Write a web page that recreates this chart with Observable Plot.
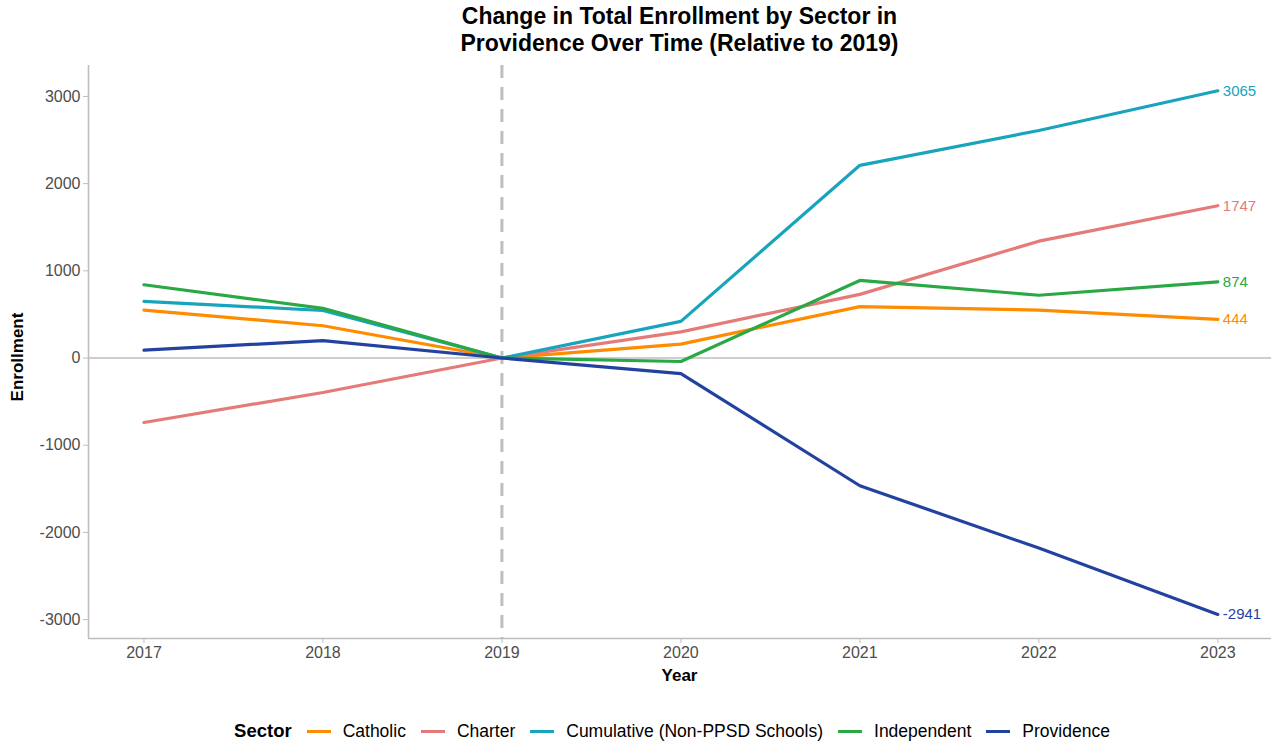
<!DOCTYPE html>
<html>
<head>
<meta charset="utf-8">
<script src="https://cdn.jsdelivr.net/npm/d3@7"></script>
<script src="https://cdn.jsdelivr.net/npm/@observablehq/plot@0.6"></script>
<style>
  html, body { margin:0; padding:0; background:#fff; }
  body { font-family: "Liberation Sans", Arial, sans-serif; }
  #wrap { position:relative; width:1271px; height:746px; overflow:hidden; }
  #chart { position:absolute; left:0; top:0; z-index:0; }
  #title { position:absolute; z-index:2; left:88px; width:1183px; top:3px; text-align:center; font-weight:bold; font-size:23px; line-height:27px; color:#000; }
  #xlab { position:absolute; z-index:2; left:88px; width:1183px; top:666px; text-align:center; font-weight:bold; font-size:17px; color:#000; }
  #ylab { position:absolute; z-index:2; left:18px; top:357px; transform:translate(-50%,-50%) rotate(-90deg); font-weight:bold; font-size:17px; color:#000; white-space:nowrap; }
  #legend { position:absolute; z-index:2; left:0; width:1271px; top:720px; display:flex; justify-content:center; align-items:center; font-size:17.5px; color:#000; padding-left:88px; box-sizing:border-box; }
  #legend .ttl { font-weight:bold; margin-right:15px; font-size:18.5px; }
  #legend .sw { display:inline-block; width:24px; height:3px; margin-right:12px; }
  #legend .it { display:flex; align-items:center; margin-right:15px; }
</style>
</head>
<body>
<div id="wrap">
  <div id="chart"></div>
  <div id="title">Change in Total Enrollment by Sector in<br>Providence Over Time (Relative to 2019)</div>
  <div id="xlab">Year</div>
  <div id="ylab">Enrollment</div>
  <div id="legend"></div>
</div>
<script>
const years = [2017, 2018, 2019, 2020, 2021, 2022, 2023];
const sectors = ["Catholic", "Charter", "Cumulative (Non-PPSD Schools)", "Independent", "Providence"];
const colors = ["#FF8C00", "#E57B78", "#18A4BD", "#2AA845", "#2342A0"];
const catholic    = [550, 370, 0, 160, 590, 550, 444];
const charter     = [-740, -395, 0, 300, 730, 1340, 1747];
const cumulative  = [650, 545, 0, 420, 2210, 2610, 3065];
const independent = [840, 570, 0, -40, 890, 720, 874];
const providence  = [90, 200, 0, -180, -1465, -2180, -2941];
const yTicks = [-3000, -2000, -1000, 0, 1000, 2000, 3000];

const series = [catholic, charter, cumulative, independent, providence];
const data = [];
sectors.forEach((s, i) => years.forEach((y, j) => data.push({sector: s, year: y, value: series[i][j]})));
const last = data.filter(d => d.year === years[years.length - 1]);

const xDom = [2016.69, 2023.3];
const yDom = [-3217, 3355];
const grey = "#bebebe";

const chart = Plot.plot({
  width: 1271, height: 700,
  marginTop: 65, marginBottom: 62, marginLeft: 88, marginRight: 0,
  style: {fontFamily: "'Liberation Sans', Arial, sans-serif", fontSize: "16px", color: "#4d4d4d", background: "white", overflow: "visible"},
  x: {domain: xDom, label: null},
  y: {domain: yDom, label: null},
  color: {domain: sectors, range: colors},
  marks: [
    Plot.ruleY([0], {stroke: grey, strokeWidth: 1.6}),
    Plot.ruleX([2019], {stroke: grey, strokeWidth: 3, strokeDasharray: "13,9"}),
    Plot.ruleX([xDom[0]], {stroke: grey, strokeWidth: 1.6}),
    Plot.ruleY([yDom[0]], {stroke: grey, strokeWidth: 1.6}),
    Plot.axisX({ticks: years, tickFormat: d => String(d), tickSize: 5, tickPadding: 3, stroke: grey, fill: "#4d4d4d", label: null, fontSize: 16}),
    Plot.axisY({ticks: yTicks, tickFormat: d => String(d), tickSize: 5, tickPadding: 3, stroke: grey, fill: "#4d4d4d", label: null, fontSize: 16}),
    Plot.line(data, {x: "year", y: "value", z: "sector", stroke: "sector", strokeWidth: 3.2, strokeLinejoin: "round"}),
    Plot.text(last, {x: "year", y: "value", text: d => String(d.value), fill: "sector", dx: 5, textAnchor: "start", fontSize: 15})
  ]
});
document.getElementById("chart").appendChild(chart);

const lg = document.getElementById("legend");
const t = document.createElement("span"); t.className = "ttl"; t.textContent = "Sector"; lg.appendChild(t);
sectors.forEach((s, i) => {
  const it = document.createElement("span"); it.className = "it";
  const sw = document.createElement("span"); sw.className = "sw"; sw.style.background = colors[i];
  const lb = document.createElement("span"); lb.textContent = s;
  it.appendChild(sw); it.appendChild(lb); lg.appendChild(it);
});
</script>
</body>
</html>
